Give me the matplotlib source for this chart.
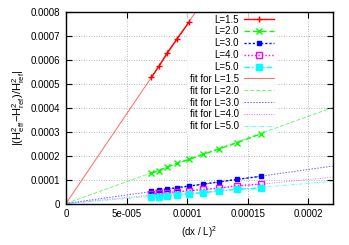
import matplotlib
matplotlib.use("Agg")
import matplotlib.pyplot as plt
import numpy as np

plt.rcParams['font.family'] = ['Liberation Sans', 'DejaVu Sans']
plt.rcParams['mathtext.fontset'] = 'custom'
plt.rcParams['mathtext.rm'] = 'Liberation Sans'
plt.rcParams['mathtext.it'] = 'Liberation Sans'

# data
x_vals = [7.05e-5, 7.67e-5, 8.36e-5, 9.16e-5, 1.017e-4, 1.133e-4, 1.262e-4, 1.413e-4, 1.606e-4]
y_L15 = [5.26e-4, 5.73e-4, 6.29e-4, 6.87e-4, 7.58e-4]
y_L20 = [1.26e-4, 1.37e-4, 1.51e-4, 1.68e-4, 1.84e-4, 2.05e-4, 2.27e-4, 2.54e-4, 2.90e-4]
y_L30 = [5.2e-5, 5.6e-5, 6.05e-5, 6.6e-5, 7.3e-5, 8.1e-5, 9.0e-5, 1.01e-4, 1.13e-4]
y_L40 = [4.0e-5, 4.2e-5, 4.5e-5, 4.9e-5, 5.3e-5, 5.9e-5, 6.4e-5, 7.4e-5, 8.1e-5]
y_L50 = [2.6e-5, 2.8e-5, 3.1e-5, 3.4e-5, 4.0e-5, 4.5e-5, 5.2e-5, 6.0e-5, 6.3e-5]
fit_slopes = [7.47, 1.82, 0.71, 0.50, 0.42]
labels = ['L=1.5', 'L=2.0', 'L=3.0', 'L=4.0', 'L=5.0']
fit_labels = ['fit for L=1.5', 'fit for L=2.0', 'fit for L=3.0', 'fit for L=4.0', 'fit for L=5.0']
x_ticks = [0, 5e-5, 1e-4, 1.5e-4, 2e-4]
x_ticklabels = ['0', '5e-005', '0.0001', '0.00015', '0.0002']
y_ticks = [0, 1e-4, 2e-4, 3e-4, 4e-4, 5e-4, 6e-4, 7e-4, 8e-4]
y_ticklabels = ['0', '0.0001', '0.0002', '0.0003', '0.0004', '0.0005', '0.0006', '0.0007', '0.0008']
x_max = 2.2e-4
y_max = 8e-4

colors = ['#ff0000', '#00ff00', '#0000ff', '#ff00ff', '#00ffff']
styles = ['-', (0, (4, 2)), (0, (1.5, 1.5)), (0, (1, 1.5)), (0, (4, 1.5, 1, 1.5))]
markers = ['+', 'x', 's', 's', 's']
mfc = ['#ff0000', '#00ff00', '#0000ff', 'none', '#00ffff']
msz = [5, 4, 3.3, 3.8, 3.8]

fig = plt.figure(figsize=(3.49, 2.45), dpi=100)
ax = fig.add_axes([66/349, 1 - 203.5/245, (332.7-66)/349, (203.5-11.7)/245])

series = [y_L15, y_L20, y_L30, y_L40, y_L50]
handles = []
for i, ys in enumerate(series):
    h, = ax.plot(x_vals[:len(ys)], ys, linestyle=styles[i], color=colors[i], lw=1.0,
                 marker=markers[i], markersize=msz[i], markerfacecolor=mfc[i],
                 markeredgecolor=colors[i], markeredgewidth=1.0, label=labels[i], zorder=3)
    handles.append(h)
xf = np.array([0, x_max])
for i, s in enumerate(fit_slopes):
    h, = ax.plot(xf, s * xf, linestyle=styles[i], color=colors[i], lw=0.7, alpha=0.6,
                 label=fit_labels[i], zorder=2)
    handles.append(h)

ax.set_xlim(0, x_max)
ax.set_ylim(0, y_max)
ax.set_xticks(x_ticks)
ax.set_xticklabels(x_ticklabels)
ax.set_yticks(y_ticks)
ax.set_yticklabels(y_ticklabels)
ax.tick_params(direction='in', length=4, width=0.8, top=True, right=True, labelsize=7, pad=4)
ax.set_axisbelow(True)
ax.grid(True, color='#a0a0a0', linestyle=(0, (1, 2)), linewidth=0.6)
for sp in ax.spines.values():
    sp.set_linewidth(1.0)

ax.set_xlabel(r'$\mathrm{(dx\ /\ L)^2}$', fontsize=7, labelpad=4)
ax.set_ylabel(r'$\mathrm{|(H^2_{eff}\!-\!H^2_{ref})/H^2_{ref}|}$', fontsize=8, labelpad=3)

leg = ax.legend(handles=handles, loc='upper right', bbox_to_anchor=((277-66)/266.7, 1.0),
                markerfirst=False, frameon=True, fancybox=False, fontsize=7,
                handlelength=3.1, handletextpad=0.5, labelspacing=0.19, borderpad=0.3,
                borderaxespad=0.0)
leg.get_frame().set_edgecolor('none')
leg.get_frame().set_facecolor('white')
leg.set_zorder(1)

fig.savefig('out.png', dpi=100)
